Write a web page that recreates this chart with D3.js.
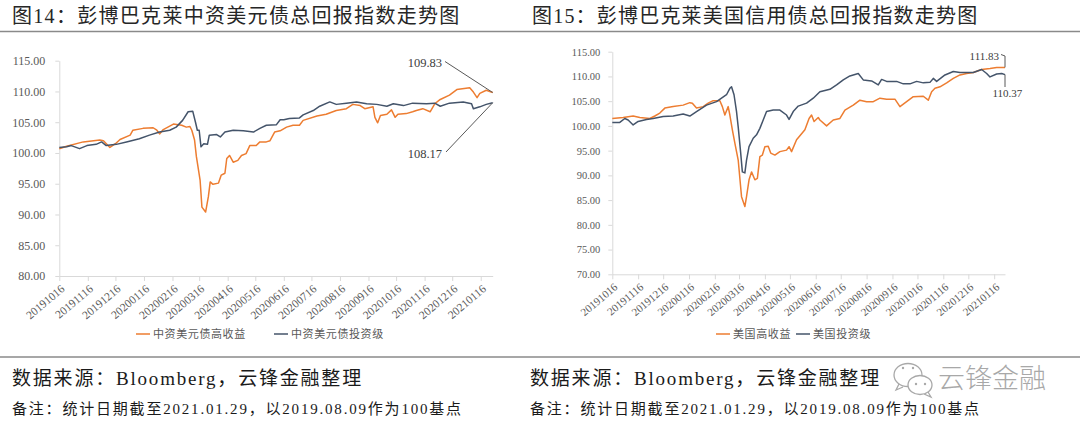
<!DOCTYPE html>
<html><head><meta charset="utf-8">
<script src="https://cdn.jsdelivr.net/npm/d3@7"></script>
<style>
html,body{margin:0;padding:0;background:#fff;}
svg{display:block;}
text{font-family:"Liberation Serif","Noto Sans CJK SC",serif;}
</style></head>
<body>
<svg id="c" width="1080" height="426"></svg>
<script>
// ---------------- DATA ----------------
const titleLeft = "图14：彭博巴克莱中资美元债总回报指数走势图";
const titleRight = "图15：彭博巴克莱美国信用债总回报指数走势图";
const sourceText = "数据来源：Bloomberg，云锋金融整理";
const noteText = "备注：统计日期截至2021.01.29，以2019.08.09作为100基点";
const watermarkText = "云锋金融";

const xTickLabels = ["20191016","20191116","20191216","20200116","20200216","20200316","20200416","20200516","20200616","20200716","20200816","20200916","20201016","20201116","20201216","20210116"];
const xDomain = ["20191016","20210129"];

const leftYTicks = [80,85,90,95,100,105,110,115];
const rightYTicks = [70,75,80,85,90,95,100,105,110,115];

const leftSeriesNames = ["中资美元债高收益","中资美元债投资级"];
const rightSeriesNames = ["美国高收益","美国投资级"];

// 中资美元债高收益
const leftHYDates = ["20191016","20191024","20191111","20191129","20191203","20191210","20191216","20191221","20200101","20200104","20200115","20200126","20200130","20200202","20200206","20200217","20200226","20200302","20200306","20200308","20200311","20200313","20200317","20200319","20200323","20200326","20200328","20200331","20200406","20200409","20200413","20200415","20200418","20200422","20200427","20200501","20200506","20200510","20200517","20200521","20200528","20200601","20200606","20200612","20200619","20200626","20200703","20200707","20200722","20200801","20200812","20200823","20200830","20200907","20200912","20200921","20200923","20200926","20200929","20201006","20201011","20201015","20201018","20201027","20201103","20201107","20201114","20201122","20201127","20201203","20201213","20201221","20210104","20210108","20210112","20210115","20210122","20210129"];
const leftHYValues = [100.7,101.1,101.8,102.1,102.0,100.9,101.5,102.2,102.9,103.7,104.0,104.1,103.7,103.1,103.8,104.7,104.5,104.2,104.3,103.7,102.1,99.4,95.6,91.2,90.4,92.9,95.3,94.9,95.1,96.4,96.7,99.1,99.6,98.5,98.8,99.6,99.9,101.2,101.2,101.8,101.8,102.0,103.4,103.6,104.2,104.5,104.5,105.3,106.0,106.3,106.9,107.2,107.9,107.7,107.2,107.5,105.8,104.9,106.1,106.3,107.0,105.8,106.3,106.4,106.7,106.9,107.2,106.7,108.0,108.7,109.4,110.3,110.6,109.9,109.0,109.7,110.2,109.83];

// 中资美元债投资级
const leftIGDates = ["20191016","20191024","20191029","20191107","20191115","20191125","20191201","20191206","20191217","20191228","20200111","20200122","20200202","20200213","20200220","20200227","20200304","20200309","20200312","20200314","20200316","20200318","20200321","20200325","20200327","20200404","20200408","20200413","20200422","20200503","20200514","20200521","20200528","20200608","20200612","20200616","20200622","20200703","20200707","20200718","20200725","20200805","20200812","20200823","20200903","20200914","20200925","20201006","20201013","20201024","20201103","20201118","20201127","20201203","20201213","20201228","20210106","20210108","20210115","20210122","20210129"];
const leftIGValues = [100.9,101.0,101.2,100.7,101.2,101.4,101.8,101.2,101.4,101.8,102.3,102.9,103.4,103.7,104.2,105.3,106.7,106.8,105.0,103.7,103.7,101.0,101.5,101.4,102.9,103.0,102.6,103.4,103.7,103.6,103.4,104.0,104.5,104.6,105.4,105.4,105.6,105.7,106.2,106.9,107.6,108.3,107.9,108.1,108.3,108.0,107.9,107.6,108.0,107.7,108.1,108.0,108.1,107.6,108.1,108.3,108.0,107.2,107.5,107.9,108.17];

// 美国高收益
const rightHYDates = ["20191016","20191029","20191110","20191118","20191130","20191206","20191212","20191218","20191228","20200109","20200117","20200120","20200125","20200202","20200208","20200214","20200222","20200225","20200228","20200303","20200305","20200308","20200311","20200315","20200319","20200323","20200325","20200328","20200331","20200404","20200407","20200410","20200413","20200416","20200420","20200423","20200428","20200504","20200512","20200515","20200518","20200524","20200528","20200603","20200608","20200611","20200614","20200619","20200621","20200629","20200707","20200715","20200721","20200731","20200808","20200816","20200824","20200901","20200909","20200919","20200925","20201003","20201011","20201023","20201029","20201102","20201106","20201112","20201120","20201128","20201206","20201214","20201222","20210101","20210111","20210119","20210129"];
const rightHYValues = [101.5,101.7,102.0,101.7,101.5,102.0,102.6,103.6,103.9,104.2,104.7,104.6,103.6,103.9,104.6,105.1,105.1,103.9,102.2,103.9,102.2,99.2,96.5,93.1,85.7,83.7,85.7,89.1,90.7,89.1,89.4,93.8,94.1,95.8,95.9,94.5,94.1,94.8,95.1,95.8,94.8,97.2,98.0,99.2,101.5,102.2,100.9,101.7,101.2,100.0,101.2,101.5,103.2,104.2,105.2,104.9,104.9,105.6,105.4,105.4,103.9,104.9,105.9,106.0,105.2,106.9,107.6,107.9,108.7,109.6,110.3,110.6,110.8,111.4,111.6,111.8,111.83];

// 美国投资级
const rightIGDates = ["20191016","20191025","20191031","20191104","20191110","20191116","20191126","20191204","20191216","20191228","20200109","20200117","20200125","20200206","20200218","20200224","20200301","20200305","20200307","20200310","20200313","20200315","20200318","20200320","20200323","20200325","20200328","20200402","20200406","20200410","20200414","20200418","20200426","20200504","20200512","20200515","20200520","20200526","20200605","20200613","20200621","20200703","20200711","20200719","20200727","20200806","20200812","20200822","20200830","20200903","20200909","20200921","20200929","20201007","20201015","20201023","20201031","20201104","20201108","20201118","20201128","20201206","20201222","20210101","20210107","20210111","20210119","20210125","20210129"];
const rightIGValues = [100.7,100.7,101.5,101.2,100.2,100.9,101.3,101.5,101.9,102.0,102.4,102.0,102.9,104.2,104.9,105.6,106.3,107.6,107.9,106.3,102.9,99.8,94.5,90.7,90.5,93.1,95.8,97.5,98.2,99.5,101.2,102.9,103.2,103.2,102.2,101.3,102.9,104.0,104.6,105.6,106.9,107.4,108.3,109.3,110.1,110.6,109.3,109.1,108.3,109.4,109.0,109.0,108.5,108.5,109.0,108.7,108.8,109.6,109.0,110.3,111.0,110.8,110.8,111.4,110.6,109.9,110.5,110.6,110.37];

const colors = ["#ED7D31","#44546A"];

// ---------------- DRAW ----------------
const parse = d3.timeParse("%Y%m%d");
const fmtDate = d3.timeFormat("%Y%m%d");
const svg = d3.select("#c");

// Titles
svg.append("text").attr("x",12).attr("y",23).attr("font-size",20).attr("letter-spacing","1.3px").attr("fill","#262626").text(titleLeft);
svg.append("text").attr("x",532).attr("y",23).attr("font-size",20).attr("letter-spacing","1.2px").attr("fill","#262626").text(titleRight);
svg.append("line").attr("x1",0).attr("x2",1080).attr("y1",31.5).attr("y2",31.5).attr("stroke","#8a8a8a").attr("stroke-width",1.6);

function panel(cfg){
  const x = d3.scaleTime().domain(xDomain.map(parse)).range(cfg.xr);
  const y = d3.scaleLinear().domain(cfg.yd).range(cfg.yr);
  const g = svg.append("g");

  const ya = g.append("g").attr("transform",`translate(${cfg.xr[0]},0)`)
    .call(d3.axisLeft(y).tickValues(cfg.yTicks).tickFormat(d3.format(".2f")).tickSize(4).tickSizeOuter(0).tickPadding(cfg.yPad));
  ya.select(".domain").attr("stroke","#d9d9d9");
  ya.selectAll(".tick line").attr("stroke","#d9d9d9");
  ya.selectAll(".tick text").attr("fill","#595959").attr("font-size",cfg.yFont)
    .style("font-family","'Liberation Serif',serif");

  const xa = g.append("g").attr("transform",`translate(0,${cfg.yr[0]})`)
    .call(d3.axisBottom(x).tickValues(xTickLabels.map(parse)).tickFormat(fmtDate).tickSize(5).tickSizeOuter(0));
  xa.select(".domain").attr("stroke","#d9d9d9");
  xa.selectAll(".tick line").attr("stroke","#d9d9d9");
  xa.selectAll(".tick text").attr("fill","#595959").attr("font-size",cfg.xFont)
    .attr("text-anchor","end").attr("x",0).attr("y",0).attr("dy","0.35em")
    .attr("transform","translate(3,11) rotate(-40)")
    .style("font-family","'Liberation Serif',serif");

  const line = d3.line().x(d=>x(d.date)).y(d=>y(d.v));
  cfg.series.forEach((s,i)=>{
    const data = s.dates.map((dt,k)=>({date:parse(dt), v:s.values[k]}));
    g.append("path").datum(data).attr("d",line).attr("fill","none")
      .attr("stroke",colors[i]).attr("stroke-width",1.5).attr("stroke-linejoin","round");
  });

  // legend
  cfg.legend.forEach((L,i)=>{
    g.append("line").attr("x1",L.x).attr("x2",L.x+14).attr("y1",cfg.legY).attr("y2",cfg.legY)
      .attr("stroke",colors[i]).attr("stroke-width",1.5);
    g.append("text").attr("x",L.x+17).attr("y",cfg.legY+4).attr("font-size",cfg.legFont)
      .attr("letter-spacing","0.6px").attr("fill","#595959").text(cfg.names[i]);
  });
  return {x,y,g};
}

const L = panel({
  xr:[59.3,492.7], yd:[80,115], yr:[276,60.7], yTicks:leftYTicks, yPad:10, yFont:12, xFont:11.5,
  series:[{dates:leftHYDates,values:leftHYValues},{dates:leftIGDates,values:leftIGValues}],
  names:leftSeriesNames, legend:[{x:136},{x:274}], legY:334, legFont:11
});
const R = panel({
  xr:[612.3,1005], yd:[70,115], yr:[274.3,51.7], yTicks:rightYTicks, yPad:8, yFont:10.5, xFont:11,
  series:[{dates:rightHYDates,values:rightHYValues},{dates:rightIGDates,values:rightIGValues}],
  names:rightSeriesNames, legend:[{x:716},{x:796}], legY:334, legFont:11
});

// Annotations (end values)
const endD = parse(xDomain[1]);
function ann(P, val, pts, tx, ty, anchor, fs){
  const ex = P.x(endD), ey = P.y(val);
  const all = pts.concat([[ex,ey]]);
  svg.append("path").attr("d", d3.line()(all)).attr("fill","none").attr("stroke","#595959").attr("stroke-width",1);
  svg.append("text").attr("x",tx).attr("y",ty).attr("text-anchor",anchor).attr("font-size",fs)
    .attr("fill","#404040").text(d3.format(".2f")(val));
}
ann(L, leftHYValues[leftHYValues.length-1], [[445,61.5]], 442, 67, "end", 12.5);
ann(L, leftIGValues[leftIGValues.length-1], [[446,152]], 442, 157.5, "end", 12.5);
ann(R, rightHYValues[rightHYValues.length-1], [[1001,54.5],[1005,56]], 999, 59.5, "end", 11);
ann(R, rightIGValues[rightIGValues.length-1], [[1005,87]], 992.5, 97, "start", 11);

// Footer
svg.append("line").attr("x1",0).attr("x2",1080).attr("y1",357).attr("y2",357).attr("stroke","#8a8a8a").attr("stroke-width",1.6);
[12,530].forEach(x0=>{
  svg.append("text").attr("x",x0).attr("y",385).attr("font-size",19).attr("letter-spacing","1.8px").attr("fill","#1a1a1a").text(sourceText);
  svg.append("text").attr("x",x0).attr("y",414).attr("font-size",15).attr("letter-spacing","1.8px").attr("fill","#1a1a1a").text(noteText);
});

// Watermark (WeChat-like icon + text)
const wm = svg.append("g").attr("fill","#fff").attr("stroke","#a8a8a8").attr("stroke-width",1.3);
wm.append("path").attr("d","M899,384 l-3,6 l7,-3");
wm.append("ellipse").attr("cx",908).attr("cy",375).attr("rx",14).attr("ry",11.5);
wm.append("path").attr("d","M928,392 l3,5 l-7,-3");
wm.append("ellipse").attr("cx",920).attr("cy",385).attr("rx",12).attr("ry",9.5);
[[903,368],[913,368],[916,384],[925,384]].forEach(p=>wm.append("circle").attr("cx",p[0]).attr("cy",p[1]).attr("r",1.2).attr("fill","#a8a8a8").attr("stroke","none"));
svg.append("text").attr("x",938).attr("y",388).attr("font-size",27).attr("fill","#a8a8a8")
  .style("font-family","'Noto Sans CJK SC',sans-serif").style("font-weight",300).text(watermarkText);
</script>
</body></html>
